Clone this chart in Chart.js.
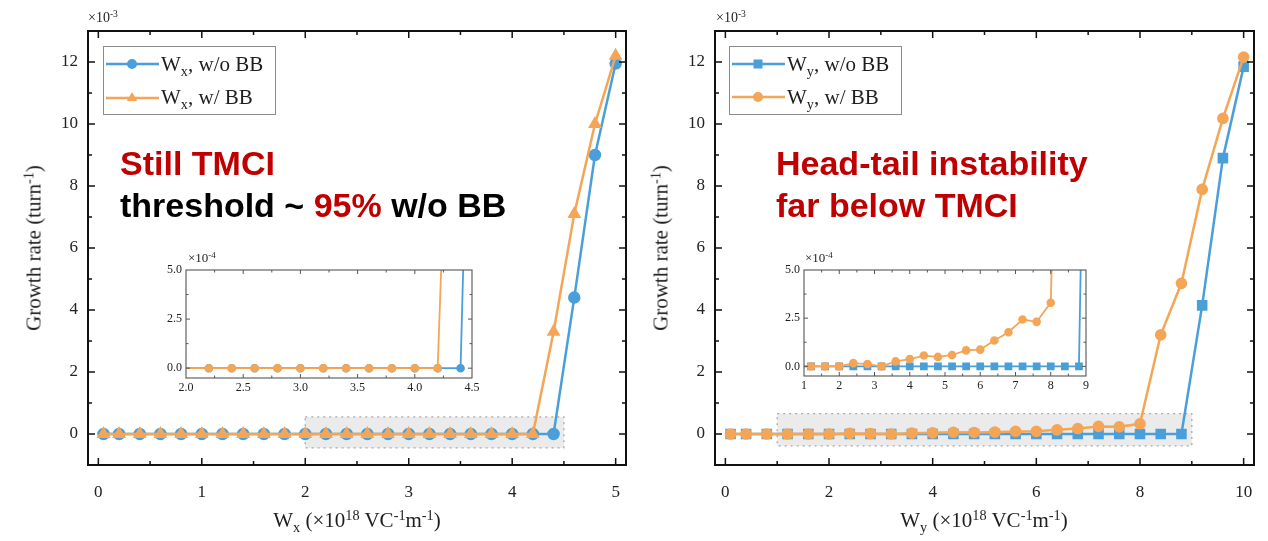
<!DOCTYPE html>
<html>
<head>
<meta charset="utf-8">
<script src="https://cdn.jsdelivr.net/npm/chart.js@4.4.1/dist/chart.umd.min.js"></script>
<style>
    body { margin: 0; background: #fff; }
    #wrap { position: relative; width: 1268px; height: 541px; overflow: hidden; font-family: "Liberation Serif", serif; color: #1e1e1e; }
    canvas { position: absolute; }
    .txt { position: absolute; white-space: nowrap; }
    .ttl { font-size: 21px; transform: translate(-50%, -50%); }
    .ttl.rot { transform: translate(-50%, -50%) rotate(-90deg); }
    sup { font-size: 68%; position: relative; top: -0.5em; vertical-align: baseline; line-height: 0; }
    sub { font-size: 68%; position: relative; top: 0.35em; vertical-align: baseline; line-height: 0; }
    .note { position: absolute; white-space: nowrap; font: bold 34px "Liberation Sans", Arial, sans-serif; line-height: 34px; color: #000; }
    .red { color: #c00000; }
    .legend { position: absolute; width: 171px; height: 67px; border: 1.5px solid #8c8c8c; background: #fff; }
    .legend svg { position: absolute; left: 1px; }
    .legend span { position: absolute; left: 57px; font-size: 21px; line-height: 24px; white-space: nowrap; }
</style>
</head>
<body>
<div id="wrap">
    <canvas id="mainL" width="634" height="541" style="left:0;top:0"></canvas>
    <canvas id="mainR" width="634" height="541" style="left:634px;top:0"></canvas>
    <canvas id="insetL" width="340" height="160" style="left:150px;top:245px"></canvas>
    <canvas id="insetR" width="340" height="160" style="left:765px;top:245px"></canvas>

    <div class="txt" style="left:88px;top:10px;font-size:14px">×10<sup>-3</sup></div>
    <div class="txt" style="left:716px;top:10px;font-size:14px">×10<sup>-3</sup></div>
    <div class="txt" style="left:188px;top:250px;font-size:13px">×10<sup>-4</sup></div>
    <div class="txt" style="left:805px;top:250px;font-size:13px">×10<sup>-4</sup></div>

    <div class="txt ttl rot" style="left:34px;top:248px">Growth rate (turn<sup>-1</sup>)</div>
    <div class="txt ttl rot" style="left:661px;top:248px">Growth rate (turn<sup>-1</sup>)</div>
    <div class="txt ttl" style="left:357px;top:520px">W<sub>x</sub> (×10<sup>18</sup> VC<sup>-1</sup>m<sup>-1</sup>)</div>
    <div class="txt ttl" style="left:984px;top:520px">W<sub>y</sub> (×10<sup>18</sup> VC<sup>-1</sup>m<sup>-1</sup>)</div>

    <div class="legend" style="left:103px;top:46px">
        <svg width="56" height="14" style="top:10px">
            <line x1="1" y1="7" x2="54" y2="7" stroke="#4a9fda" stroke-width="2.5"/>
            <circle cx="27" cy="7" r="5" fill="#4a9fda"/>
        </svg>
        <span style="top:5px">W<sub>x</sub>, w/o BB</span>
        <svg width="56" height="14" style="top:43px">
            <line x1="1" y1="8" x2="54" y2="8" stroke="#f4a556" stroke-width="2.5"/>
            <polygon points="27,2 32.2,11 21.8,11" fill="#f4a556"/>
        </svg>
        <span style="top:38px">W<sub>x</sub>, w/ BB</span>
    </div>

    <div class="legend" style="left:729px;top:46px">
        <svg width="56" height="14" style="top:10px">
            <line x1="1" y1="7" x2="54" y2="7" stroke="#4a9fda" stroke-width="2.5"/>
            <rect x="22.5" y="2.5" width="9" height="9" fill="#4a9fda"/>
        </svg>
        <span style="top:5px">W<sub>y</sub>, w/o BB</span>
        <svg width="56" height="14" style="top:43px">
            <line x1="1" y1="7" x2="54" y2="7" stroke="#f4a556" stroke-width="2.5"/>
            <circle cx="27" cy="7" r="5" fill="#f4a556"/>
        </svg>
        <span style="top:38px">W<sub>y</sub>, w/ BB</span>
    </div>

    <div class="note red" style="left:120px;top:146px">Still TMCI</div>
    <div class="note" style="left:120px;top:188px">threshold ~ <span class="red">95%</span> w/o BB</div>
    <div class="note red" style="left:776px;top:146px">Head-tail instability</div>
    <div class="note red" style="left:776px;top:188px">far below TMCI</div>
</div>

<script>
// growth rates in units of 1e-3 turn^-1
const wxValues = [0.05, 0.2, 0.4, 0.6, 0.8, 1.0, 1.2, 1.4, 1.6, 1.8, 2.0, 2.2, 2.4, 2.6, 2.8, 3.0, 3.2, 3.4, 3.6, 3.8, 4.0, 4.2, 4.4, 4.6, 4.8, 5.0];
const wxNoBB = [0, 0, 0, 0, 0, 0, 0, 0, 0, 0, 0, 0, 0, 0, 0, 0, 0, 0, 0, 0, 0, 0, 0, 4.4, 9.0, 11.95];
const wxWithBB = [0, 0, 0, 0, 0, 0, 0, 0, 0, 0, 0, 0, 0, 0, 0, 0, 0, 0, 0, 0, 0, 0, 3.3, 7.1, 10.0, 12.2];

const wyValues = [0.1, 0.4, 0.8, 1.2, 1.6, 2.0, 2.4, 2.8, 3.2, 3.6, 4.0, 4.4, 4.8, 5.2, 5.6, 6.0, 6.4, 6.8, 7.2, 7.6, 8.0, 8.4, 8.8, 9.2, 9.6, 10.0];
const wyNoBB = [0, 0, 0, 0, 0, 0, 0, 0, 0, 0, 0, 0, 0, 0, 0, 0, 0, 0, 0, 0, 0, 0, 0, 4.15, 8.9, 11.85];
const wyWithBB = [0, 0, 0, 0, 0, 0, 0.017, 0.012, 0, 0.026, 0.038, 0.056, 0.049, 0.059, 0.083, 0.087, 0.134, 0.177, 0.243, 0.231, 0.33, 3.2, 4.86, 7.89, 10.18, 12.16];

// tick labels
const wxTicks = [0, 1, 2, 3, 4, 5];
const wyTicks = [0, 2, 4, 6, 8, 10];
const rateTicks = [0, 2, 4, 6, 8, 10, 12];
const wxInsetTicks = [2.0, 2.5, 3.0, 3.5, 4.0, 4.5];
const wyInsetTicks = [1, 2, 3, 4, 5, 6, 7, 8, 9];
const rateInsetTicks = [0, 0.25, 0.5];   // shown as x1e-4

const BLUE = '#4a9fda';
const ORANGE = '#f4a556';

Chart.defaults.font.family = "'Liberation Serif', serif";
Chart.defaults.color = '#222';

function pairs(xs, ys) {
    return xs.map((x, i) => ({ x: x, y: ys[i] }));
}

function mids(vals) {
    return vals.slice(1).map((v, i) => (v + vals[i]) / 2);
}

// frame, mirrored inward ticks and the shaded zoom box
const frameTicks = {
    id: 'frameTicks',

    beforeDatasetsDraw(chart, args, o) {
        if (!o.box) return;
        const ctx = chart.ctx;
        const x = chart.scales.x;
        const y = chart.scales.y;
        const l = x.getPixelForValue(o.box[0]);
        const r = x.getPixelForValue(o.box[1]);
        const b = y.getPixelForValue(o.box[2]);
        const t = y.getPixelForValue(o.box[3]);
        ctx.save();
        ctx.fillStyle = 'rgba(222,222,222,0.6)';
        ctx.fillRect(l, t, r - l, b - t);
        ctx.setLineDash([2, 4]);
        ctx.strokeStyle = '#a8a8a8';
        ctx.lineWidth = 1.3;
        ctx.strokeRect(l, t, r - l, b - t);
        ctx.restore();
    },

    afterDatasetsDraw(chart, args, o) {
        const ctx = chart.ctx;
        const a = chart.chartArea;
        const x = chart.scales.x;
        const y = chart.scales.y;
        const xs = x.ticks.map(t => t.value);
        const ys = y.ticks.map(t => t.value);

        ctx.save();
        ctx.strokeStyle = o.color;
        ctx.lineWidth = o.tickWidth;

        function seg(x1, y1, x2, y2) {
            ctx.beginPath();
            ctx.moveTo(x1, y1);
            ctx.lineTo(x2, y2);
            ctx.stroke();
        }

        function vTicks(vals, len) {
            vals.forEach(v => {
                const p = x.getPixelForValue(v);
                if (p < a.left + 1 || p > a.right - 1) return;
                seg(p, a.bottom, p, a.bottom - len);
                seg(p, a.top, p, a.top + len);
            });
        }

        function hTicks(vals, len) {
            vals.forEach(v => {
                const p = y.getPixelForValue(v);
                if (p < a.top + 1 || p > a.bottom - 1) return;
                seg(a.left, p, a.left + len, p);
                seg(a.right, p, a.right - len, p);
            });
        }

        vTicks(xs, o.major);
        vTicks(mids(xs), o.minor);
        hTicks(ys, o.major);
        hTicks(mids(ys), o.minor);

        ctx.lineWidth = o.frameWidth;
        ctx.strokeRect(a.left, a.top, a.right - a.left, a.bottom - a.top);
        ctx.restore();
    }
};

function makeMain(id, xs, noBB, withBB, o) {

    return new Chart(document.getElementById(id), {

        type: 'line',

        data: {
            datasets: [{
                label: o.names[0],
                data: pairs(xs, noBB),
                borderColor: BLUE,
                backgroundColor: BLUE,
                pointBorderColor: BLUE,
                pointStyle: o.styles[0],
                pointRadius: o.radii[0],
                borderWidth: 2.5,
                order: 2
            }, {
                label: o.names[1],
                data: pairs(xs, withBB),
                borderColor: ORANGE,
                backgroundColor: ORANGE,
                pointBorderColor: ORANGE,
                pointStyle: o.styles[1],
                pointRadius: o.radii[1],
                borderWidth: 2.5,
                order: 1
            }]
        },

        options: {
            responsive: false,
            animation: false,
            layout: {
                padding: { left: 0, top: 31, right: o.padRight, bottom: 0 }
            },
            plugins: {
                legend: { display: false },
                tooltip: { enabled: false },
                frameTicks: { box: o.box, color: '#111', tickWidth: 1.5, frameWidth: 2, major: 7, minor: 4 }
            },
            scales: {
                x: {
                    type: 'linear',
                    min: o.xMin,
                    max: o.xMax,
                    afterBuildTicks: s => { s.ticks = o.xTicks.map(v => ({ value: v })); },
                    afterFit: s => { s.height = 76; },
                    grid: { display: false, drawTicks: false },
                    border: { display: false },
                    ticks: { padding: 12, autoSkip: false, maxRotation: 0, font: { size: 17, lineHeight: 1.85 } }
                },
                y: {
                    type: 'linear',
                    min: -1,
                    max: 13,
                    afterBuildTicks: s => { s.ticks = rateTicks.map(v => ({ value: v })); },
                    afterFit: s => { s.width = o.yWidth; },
                    grid: { display: false, drawTicks: false },
                    border: { display: false },
                    ticks: { padding: 10, autoSkip: false, font: { size: 17 } }
                }
            }
        },

        plugins: [frameTicks]
    });
}

function makeInset(id, xs, noBB, withBB, o) {

    return new Chart(document.getElementById(id), {

        type: 'line',

        data: {
            datasets: [{
                data: pairs(xs, noBB),
                borderColor: BLUE,
                backgroundColor: BLUE,
                pointBorderColor: BLUE,
                pointStyle: o.style,
                pointRadius: c => (c.raw && c.raw.x <= o.xMin ? 0 : o.radius),
                borderWidth: 1.8,
                clip: 0,
                order: 2
            }, {
                data: pairs(xs, withBB),
                borderColor: ORANGE,
                backgroundColor: ORANGE,
                pointBorderColor: ORANGE,
                pointStyle: 'circle',
                pointRadius: c => (c.raw && c.raw.x <= o.xMin ? 0 : 3.4),
                borderWidth: 1.8,
                clip: 0,
                order: 1
            }]
        },

        options: {
            responsive: false,
            animation: false,
            layout: {
                padding: { left: 0, top: 25, right: o.padRight, bottom: 0 }
            },
            plugins: {
                legend: { display: false },
                tooltip: { enabled: false },
                frameTicks: { color: '#555', tickWidth: 1, frameWidth: 1.1, major: 4, minor: 2.5 }
            },
            scales: {
                x: {
                    type: 'linear',
                    min: o.xMin,
                    max: o.xMax,
                    afterBuildTicks: s => { s.ticks = o.xTicks.map(v => ({ value: v })); },
                    afterFit: s => { s.height = o.xHeight; },
                    grid: { display: false, drawTicks: false },
                    border: { display: false },
                    ticks: {
                        padding: 3,
                        autoSkip: false,
                        maxRotation: 0,
                        font: { size: 12 },
                        callback: v => (o.decimals ? v.toFixed(1) : String(v))
                    }
                },
                y: {
                    type: 'linear',
                    min: -0.05,
                    max: 0.5,
                    afterBuildTicks: s => { s.ticks = rateInsetTicks.map(v => ({ value: v })); },
                    afterFit: s => { s.width = o.yWidth; },
                    grid: { display: false, drawTicks: false },
                    border: { display: false },
                    ticks: {
                        padding: 4,
                        autoSkip: false,
                        font: { size: 12 },
                        callback: v => (v * 10).toFixed(1)
                    }
                }
            }
        },

        plugins: [frameTicks]
    });
}

makeMain('mainL', wxValues, wxNoBB, wxWithBB, {
    names: ['Wx, w/o BB', 'Wx, w/ BB'],
    styles: ['circle', 'triangle'],
    radii: [5, 5.5],
    xMin: -0.1,
    xMax: 5.1,
    xTicks: wxTicks,
    yWidth: 88,
    padRight: 8,
    box: [2.0, 4.5, -0.45, 0.55]
});

makeMain('mainR', wyValues, wyNoBB, wyWithBB, {
    names: ['Wy, w/o BB', 'Wy, w/ BB'],
    styles: ['rect', 'circle'],
    radii: [5.7, 4.6],
    xMin: -0.2,
    xMax: 10.2,
    xTicks: wyTicks,
    yWidth: 81,
    padRight: 14,
    box: [1.0, 9.0, -0.38, 0.66]
});

makeInset('insetL', wxValues, wxNoBB, wxWithBB, {
    style: 'circle',
    radius: 3.4,
    xMin: 2.0,
    xMax: 4.5,
    xTicks: wxInsetTicks,
    decimals: true,
    yWidth: 36,
    xHeight: 27,
    padRight: 18
});

makeInset('insetR', wyValues, wyNoBB, wyWithBB, {
    style: 'rect',
    radius: 4.2,
    xMin: 1,
    xMax: 9,
    xTicks: wyInsetTicks,
    decimals: false,
    yWidth: 39,
    xHeight: 29,
    padRight: 19
});
</script>
</body>
</html>
